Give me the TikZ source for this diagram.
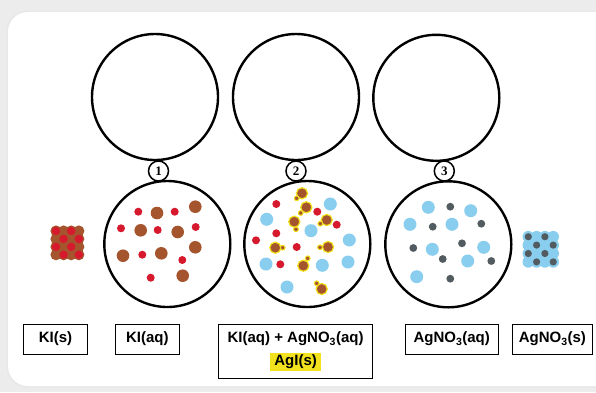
\documentclass[tikz,border=0pt]{standalone}
\usepackage{fontspec}
\setmainfont{Liberation Sans}
\newfontfamily\numfont{Liberation Serif}

\definecolor{iodide}{RGB}{165,85,46}
\definecolor{potassium}{RGB}{215,25,45}
\definecolor{nitrate}{RGB}{137,206,238}
\definecolor{silver}{RGB}{82,91,95}
\definecolor{agiring}{RGB}{242,226,30}
\definecolor{cardbg}{RGB}{236,236,236}

\tikzset{
  beaker/.style={circle, draw, line width=2.4pt, minimum size=126pt, inner sep=0pt},
  badge/.style={circle, draw, fill=white, line width=1.5pt, minimum size=20pt, inner sep=0pt,
    font=\numfont\bfseries\fontsize{13}{13}\selectfont},
  tag/.style={draw, line width=1pt, inner sep=0pt, minimum height=30pt,
    font=\bfseries\fontsize{15}{18}\selectfont},
  tagtext/.style={inner sep=0pt, font=\bfseries\fontsize{15}{18}\selectfont},
}

\begin{document}
\begin{tikzpicture}[x=1pt,y=-1pt]
\useasboundingbox (0,0) rectangle (596,392);
% card on grey page
\fill[cardbg] (0,0) rectangle (596,392);
\fill[gray!18,rounded corners=21pt] (6.5,10.5) rectangle (620,387.5);
\fill[white,rounded corners=20pt] (8,12) rectangle (620,386);

% empty circles on top, solutions below
\node[beaker] (top1) at (155,97) {};
\node[beaker] (top2) at (296,97) {};
\node[beaker] (top3) at (436.3,97.8) {};
\node[beaker] (sol1) at (167.3,244) {};
\node[beaker] (sol2) at (307.3,244) {};
\node[beaker] (sol3) at (448.3,244.3) {};
\node[badge] (n1) at (158.5,171) {1};
\node[badge] (n2) at (296,171) {2};
\node[badge] (n3) at (444.3,171) {3};

% KI(s) crystal
\foreach \i in {0,...,3}
  \foreach \j in {0,...,3}
    \fill[iodide] (56+7.6*\i,231+7.9*\j) circle (5.6pt);
\foreach \i/\j in {0/0,2/0,1/1,3/1,0/2,2/2,1/3,3/3}
  \fill[potassium] (56+7.6*\i,231+7.9*\j) circle (4.2pt);

% AgNO3(s) crystal
\foreach \i in {0,...,3}
  \foreach \j in {0,...,3}
    \fill[nitrate] (528.3+8.3*\i,236.7+8.4*\j) circle (5.8pt);
\foreach \i/\j in {0/0,2/0,1/1,3/1,0/2,2/2,1/3,3/3}
  \fill[silver] (528.3+8.3*\i,236.7+8.4*\j) circle (3.6pt);

% KI(aq)
\foreach \x/\y in {138.3/211.7,174.7/211.7,121/228.3,157.7/230,195.7/227,142.3/254.7,182.3/260,150.7/277.7}
  \fill[potassium] (\x,\y) circle (4pt);
\foreach \x/\y in {157/213,195.3/206.7,140.7/230.3,177.7/232,123/255.7,161.3/253.3,195.3/247.3,182.7/275.7}
  \fill[iodide] (\x,\y) circle (6.3pt);

% mixture with AgI
\foreach \x/\y in {330.3/204,266.7/219.3,311/230.7,349.3/240,266/264,322.3/265.3,348/262,287/287}
  \fill[nitrate] (\x,\y) circle (6.5pt);
\foreach \x/\y in {276.3/204,317.3/211.7,336.7/224.7,276.3/233.3,256/240.3,296.7/247,280.3/264.3}
  \fill[potassium] (\x,\y) circle (4pt);
\foreach \x/\y/\u/\v in {302/193.3/296.7/198.3, 306.3/207.3/300.7/213, 294.3/221.7/296/229.3,
    326.7/220/320.3/223.7, 275.3/247.7/282.7/247.7, 328/247/320/247.3,
    303.3/265.7/307.7/258.3, 321.7/289/316.7/283.3}
{
  \filldraw[iodide,draw=agiring,line width=1.2pt] (\x,\y) circle (5.6pt);
  \filldraw[iodide,draw=agiring,line width=1pt] (\u,\v) circle (2.4pt);
}

% AgNO3(aq)
\foreach \x/\y in {428.3/207.3,470.7/210.7,410/224.3,452/224.3,483.7/247.3,432.3/249.3,467.7/261,416.7/276.7}
  \fill[nitrate] (\x,\y) circle (6.5pt);
\foreach \x/\y in {450.3/206.7,432.7/226.7,481.3/223.7,413.3/248,462/243.3,442.7/259,491.3/261,450.3/278.7}
  \fill[silver] (\x,\y) circle (3.9pt);

% name tags
\node[tag, minimum width=64pt] (kis) at (55.5,339) {KI(s)};
\node[tag, minimum width=64pt] (kiaq) at (147.3,339) {KI(aq)};
\node[tag, minimum width=154pt, minimum height=54pt] (mix) at (295.6,351) {};
\node[tagtext] (mixtxt) at (295.6,339) {KI(aq) + AgNO\textsubscript{3}(aq)};
\node[tagtext, fill=agiring, inner xsep=4pt, inner ysep=2pt] (agi) at (295.6,362) {AgI(s)};
\node[tag, minimum width=93pt] (agno3aq) at (451.7,339) {AgNO\textsubscript{3}(aq)};
\node[tag, minimum width=79.5pt] (agno3s) at (552.4,339) {AgNO\textsubscript{3}(s)};
\end{tikzpicture}
\end{document}
